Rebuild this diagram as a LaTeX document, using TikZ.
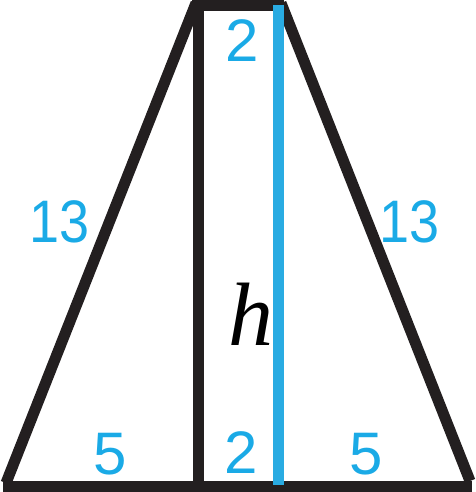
\documentclass[tikz,border=0pt]{standalone}
\usepackage{fontspec}
\setsansfont{Liberation Sans}
\newfontfamily\hfont{Liberation Serif}
\definecolor{edge}{HTML}{231F20}
\definecolor{hline}{HTML}{29ABE2}
\definecolor{lbl}{HTML}{1AAAE6}
\tikzset{
  edgeline/.style={draw=edge,line width=11pt,line cap=butt},
  heightline/.style={draw=hline,line width=11pt},
  numlbl/.style={text=lbl,inner sep=0pt,font=\sffamily\fontsize{60}{60}\selectfont},
  varlbl/.style={text=black,inner sep=0pt,font=\hfont\itshape\fontsize{90}{90}\selectfont}
}
\begin{document}
\begin{tikzpicture}[x=1pt,y=-1pt]
\useasboundingbox (0,0) rectangle (475,492);
\coordinate (tl) at (198,6);
\coordinate (fl) at (198,486);
\coordinate (hb) at (278,485);
% trapezoid
\draw[edgeline] (192,6) -- (284,6);
\draw[edgeline] (196,3) -- (6,483);
\draw[edgeline] (281,3) -- (470,481);
\draw[edgeline] (3,486) -- (472,486);
\draw[edgeline] (tl) -- (fl);
% height
\draw[heightline] (278,5) -- (hb);
% labels
\node[numlbl] (t2) at (242,41) {2};
\node[numlbl] (b2) at (241,453) {2};
\node[numlbl] (l5) at (110,454) {5};
\node[numlbl] (r5) at (366,454) {5};
\node[numlbl,xscale=0.9] (l13) at (60,222) {13};
\node[numlbl,xscale=0.9] (r13) at (410,222) {13};
\node[varlbl] (h) at (251,314) {h};
\end{tikzpicture}
\end{document}
